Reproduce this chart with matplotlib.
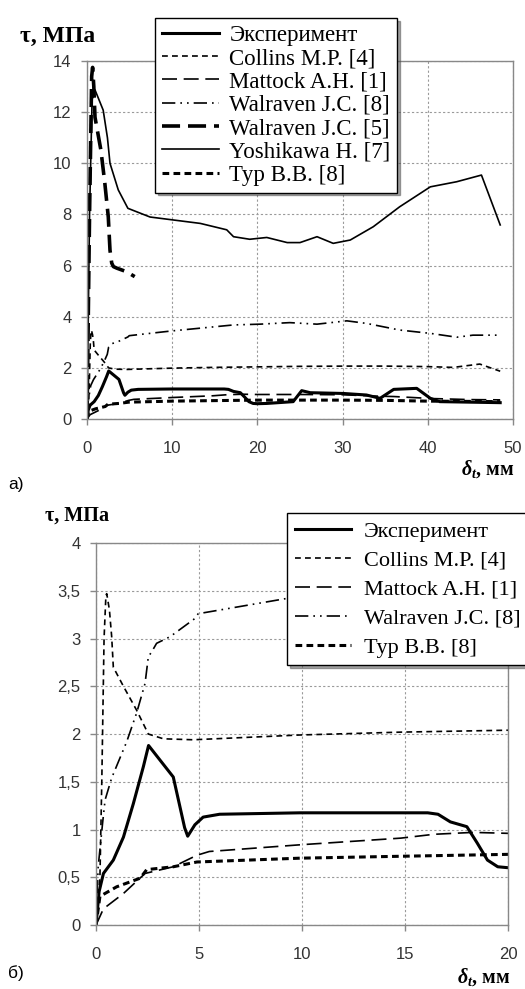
import numpy as np
import matplotlib
matplotlib.use("Agg")
import matplotlib.pyplot as plt
from matplotlib.ticker import FuncFormatter

plt.rcParams['mathtext.fontset'] = 'custom'
plt.rcParams['mathtext.it'] = 'Liberation Serif:italic:bold'
plt.rcParams['mathtext.rm'] = 'Liberation Serif:bold'

# data (x - slip, mm; y - shear stress, MPa)
exp_x = [0, 0.15, 0.36, 0.84, 1.33, 1.81, 2.3, 2.55, 3.75, 4.3, 4.45, 4.8, 5.2, 6.0, 9.9, 16.1, 16.6,
         17.2, 18.0, 18.5, 19.0, 19.5, 20.0, 21.1, 24.2, 25.2, 26.2, 30.1, 32.8, 34.4, 36.0, 38.7,
         40.3, 41.4, 48.5]
exp_y = [0, 0.35, 0.54, 0.68, 0.92, 1.27, 1.66, 1.88, 1.55, 1.02, 0.93, 1.05, 1.13, 1.16, 1.175,
         1.175, 1.16, 1.08, 1.03, 0.86, 0.68, 0.61, 0.6, 0.61, 0.68, 1.11, 1.03, 1.0, 0.94, 0.81,
         1.16, 1.2, 0.81, 0.68, 0.64]

col_x = [0, 0.19, 0.28, 0.39, 0.48, 0.52, 0.65, 0.76, 0.84, 1.33, 1.97, 2.54, 3.27, 4.72, 9.9,
         14.8, 20, 25, 30.5, 35, 39.9, 43, 46.1, 48.5]
col_y = [0, 0.5, 1.5, 3.0, 3.45, 3.47, 3.3, 3.02, 2.7, 2.5, 2.25, 2.0, 1.95, 1.94, 1.99, 2.02,
         2.04, 2.06, 2.07, 2.07, 2.05, 2.02, 2.15, 1.87]

mat_x = [0, 0.36, 1.33, 2.38, 3.75, 4.89, 5.5, 9.9, 14.8, 16.4, 18.3, 20, 25, 30, 33.6, 36,
         40.6, 45, 48.5]
mat_y = [0, 0.17, 0.33, 0.54, 0.61, 0.73, 0.77, 0.84, 0.91, 0.95, 0.97, 0.96, 0.96, 0.95, 0.9,
         0.88, 0.8, 0.76, 0.75]

w8_x = [0, 0.1, 0.32, 0.44, 0.76, 1.49, 1.97, 2.38, 2.54, 2.7, 2.94, 3.6, 4.8, 4.96, 9.26, 10.1,
        17.2, 20.3, 23.8, 27, 30.5, 32.8, 36.7, 40.3, 43.4, 45.3, 48.1]
w8_y = [0, 0.6, 1.07, 1.31, 1.54, 1.92, 2.22, 2.53, 2.81, 2.86, 2.95, 3.02, 3.21, 3.26, 3.42,
        3.45, 3.68, 3.71, 3.77, 3.71, 3.84, 3.74, 3.48, 3.35, 3.2, 3.28, 3.28]

w5_x = [0, 0.3, 0.55, 0.66, 0.8, 0.94, 1.64, 2.1, 2.5, 2.7, 2.9, 3.1, 3.5, 4.65, 5.6]
w5_y = [0, 8.0, 13.4, 13.75, 13.0, 11.8, 10.5, 9.2, 7.9, 6.6, 6.1, 5.96, 5.9, 5.76, 5.57]

yo_x = [0, 0.3, 0.6, 0.94, 1.9, 2.4, 2.7, 3.67, 4.8, 7.4, 13.3, 16.4, 17.2, 19.1, 21.1, 23.5,
        25, 27, 28.9, 30.9, 33.6, 36.7, 40.3, 43.4, 46.3, 48.5]
yo_y = [0, 8.0, 12.5, 12.87, 12.08, 11.0, 10.0, 8.96, 8.24, 7.9, 7.65, 7.4, 7.13, 7.03, 7.1, 6.9,
        6.9, 7.13, 6.87, 7.0, 7.52, 8.3, 9.08, 9.28, 9.54, 7.59]

typ_x = [0, 0.19, 1.0, 2.14, 2.46, 3.75, 4.9, 9.9, 14.8, 20, 25, 30, 35, 40, 45, 48.5]
typ_y = [0, 0.3, 0.4, 0.49, 0.58, 0.61, 0.66, 0.70, 0.72, 0.74, 0.74, 0.74, 0.73, 0.7, 0.69, 0.68]

labels = ['Эксперимент', 'Collins M.P. [4]', 'Mattock A.H. [1]', 'Walraven J.C. [8]',
          'Walraven J.C. [5]', 'Yoshikawa H. [7]', 'Тур В.В. [8]']

styles = {
    'exp': dict(color='black', lw=2.2, ls='-'),
    'col': dict(color='black', lw=1.2, ls=(0, (3.5, 2.5))),
    'mat': dict(color='black', lw=1.2, ls=(0, (9, 4))),
    'w8': dict(color='black', lw=1.2, ls=(0, (8, 3, 1, 3, 1, 3))),
    'w5': dict(color='black', lw=2.6, ls=(0, (5, 2.2))),
    'yo': dict(color='black', lw=1.2, ls='-'),
    'typ': dict(color='black', lw=2.2, ls=(0, (2.2, 1.4))),
}

fig = plt.figure(figsize=(5.25, 9.89), dpi=100)
ax1 = fig.add_axes([0.1657, 0.5763, 0.8114, 0.362])
ax2 = fig.add_axes([0.1829, 0.0647, 0.7848, 0.3862])


def style_axes(ax, xpad):
    ax.grid(True, color='#9a9a9a', lw=0.8, ls=(0, (2, 2)))
    ax.set_axisbelow(True)
    for s in ax.spines.values():
        s.set_color('#888888')
        s.set_linewidth(1.0)
    ax.tick_params(axis='both', colors='#888888', length=4, width=1,
                   labelcolor='#333333', labelsize=12)
    ax.tick_params(axis='x', pad=xpad)
    ax.tick_params(axis='y', pad=7)
    for lab in ax.get_xticklabels() + ax.get_yticklabels():
        lab.set_family('Liberation Sans')


comma = FuncFormatter(lambda v, p: ('%g' % v).replace('.', ','))

# top chart
l_exp, = ax1.plot(exp_x, exp_y, **styles['exp'])
l_col, = ax1.plot(col_x, col_y, **styles['col'])
l_mat, = ax1.plot(mat_x, mat_y, **styles['mat'])
l_w8, = ax1.plot(w8_x, w8_y, **styles['w8'])
l_w5, = ax1.plot(w5_x, w5_y, **styles['w5'])
l_yo, = ax1.plot(yo_x, yo_y, **styles['yo'])
l_typ, = ax1.plot(typ_x, typ_y, **styles['typ'])
ax1.set_xlim(0, 50)
ax1.set_ylim(0, 14)
ax1.set_xticks(range(0, 51, 10))
ax1.set_yticks(range(0, 15, 2))
style_axes(ax1, 12)

fig.legend([l_exp, l_col, l_mat, l_w8, l_w5, l_yo, l_typ], labels,
           loc='upper left', bbox_to_anchor=(0.295, 0.982), bbox_transform=fig.transFigure,
           prop=dict(family='Liberation Serif', size=16.5), frameon=True, fancybox=False,
           shadow=True, edgecolor='black', framealpha=1, handlelength=2.5,
           handletextpad=0.45, labelspacing=0.1, borderpad=0.3, borderaxespad=0)

# bottom chart
b_exp, = ax2.plot(exp_x, exp_y, **styles['exp'])
b_col, = ax2.plot(col_x, col_y, **styles['col'])
b_mat, = ax2.plot(mat_x, mat_y, **styles['mat'])
b_w8, = ax2.plot(w8_x, w8_y, **styles['w8'])
b_typ, = ax2.plot(typ_x, typ_y, **styles['typ'])
ax2.set_xlim(0, 20)
ax2.set_ylim(0, 4)
ax2.set_xticks(range(0, 21, 5))
ax2.set_yticks(np.arange(0, 4.01, 0.5))
ax2.yaxis.set_major_formatter(comma)
style_axes(ax2, 12)

fig.legend([b_exp, b_col, b_mat, b_w8, b_typ],
           [labels[0], labels[1], labels[2], labels[3], labels[6]],
           loc='upper left', bbox_to_anchor=(0.547, 0.481), bbox_transform=fig.transFigure,
           prop=dict(family='Liberation Serif', size=16), frameon=True, fancybox=False,
           shadow=True, edgecolor='black', framealpha=1, handlelength=2.5,
           handletextpad=0.6, labelspacing=0.38, borderpad=0.35, borderaxespad=0)

# axis captions
fig.text(0.038, 0.9636, 'τ, МПа', ha='left', va='center',
         family='Liberation Serif', weight='bold', size=17)
fig.text(0.086, 0.479, 'τ, МПа', ha='left', va='center',
         family='Liberation Serif', weight='bold', size=14.5)
fig.text(0.981, 0.526, r'$\delta_t$, мм', ha='right', va='center',
         family='Liberation Serif', weight='bold', size=14.5)
fig.text(0.972, 0.0125, r'$\delta_t$, мм', ha='right', va='center',
         family='Liberation Serif', weight='bold', size=14.5)
fig.text(0.015, 0.510, 'а)', ha='left', va='center', family='Liberation Sans', size=12.5)
fig.text(0.015, 0.016, 'б)', ha='left', va='center', family='Liberation Sans', size=12.5)

fig.savefig('out.png', dpi=100)
